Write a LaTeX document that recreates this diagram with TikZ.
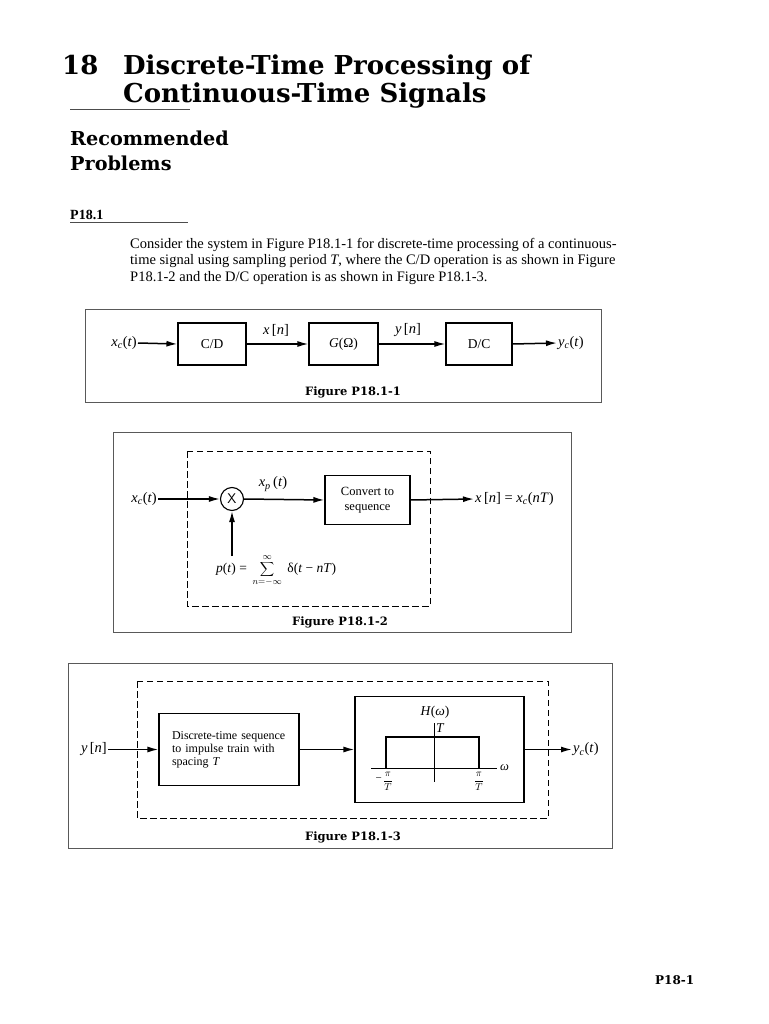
\documentclass[tikz,border=0pt]{standalone}
\usepackage{fontspec}
\setmainfont{Liberation Serif}
\newfontfamily\headfont{DejaVu Serif}
\usetikzlibrary{arrows.meta}
\newcommand{\setfs}[1]{\fontsize{#1}{#1}\selectfont}
\newcommand{\isub}[2]{\textit{#1}\textsubscript{\textit{#2}}}
\begin{document}
\begin{tikzpicture}[x=1pt,y=-1pt,
  blk/.style={draw, line width=1.1pt, inner sep=0pt, align=center, font=\setfs{13.5}},
  sig/.style={line width=1.5pt, -{Latex[length=11pt,width=6pt]}},
  framebox/.style={draw=black!65, line width=1pt},
  dashbox/.style={draw, line width=0.9pt, dash pattern=on 6.5pt off 3.5pt},
  lab/.style={font=\setfs{14.5}, inner sep=1pt},
  figcap/.style={font=\headfont\bfseries\setfs{11.5}},
  para/.style={anchor=base west, font=\setfs{14.5}, inner sep=0pt},
]
\useasboundingbox[fill=white] (0,0) rectangle (768,1024);

% ---------- headings ----------
\node[anchor=base west, inner sep=0pt, font=\headfont\bfseries\setfs{26}] (t18) at (62,75) {18};
\node[anchor=base west, inner sep=0pt, font=\headfont\bfseries\setfs{26}] (t1) at (123,75) {Discrete-Time Processing of};
\node[anchor=base west, inner sep=0pt, font=\headfont\bfseries\setfs{26}] (t2) at (123,103) {Continuous-Time Signals};
\draw[black!70, line width=1pt] (70,110) -- (190,110);
\node[anchor=base west, inner sep=0pt, font=\headfont\bfseries\setfs{19.2}] (rec) at (70,146) {Recommended};
\node[anchor=base west, inner sep=0pt, font=\headfont\bfseries\setfs{19.2}] (prob) at (70,171) {Problems};
\node[anchor=base west, inner sep=0pt, font=\bfseries\setfs{14}] (p181) at (70,220) {P18.1};
\draw[black!70, line width=0.8pt] (70,222.5) -- (188,222.5);
\node[para] (l1) at (130,248) {Consider the system in Figure P18.1-1 for discrete-time processing of a continuous-};
\node[para] (l2) at (130,264.5) {time signal using sampling period \textit{T}, where the C/D operation is as shown in Figure};
\node[para] (l3) at (130,281) {P18.1-2 and the D/C operation is as shown in Figure P18.1-3.};

% ---------- Figure P18.1-1 ----------
\draw[framebox] (85,309) rectangle (601,402);
\node[blk, minimum width=68, minimum height=42] (cd) at (212,344) {C/D};
\node[blk, minimum width=69, minimum height=42] (g) at (343.5,344) {\textit{G}(Ω)};
\node[blk, minimum width=66, minimum height=42] (dc) at (479,344) {D/C};
\node[lab, anchor=east] (xc1) at (138,343) {\isub{x}{c}(\textit{t})};
\node[lab, anchor=west] (yc1) at (557,343) {\isub{y}{c}(\textit{t})};
\node[lab] (xn1) at (276,330) {\textit{x}\,[\textit{n}]};
\node[lab] (yn1) at (408,330) {\textit{y}\,[\textit{n}]};
\draw[sig] (xc1.east) -- (cd.west);
\draw[sig] (cd.east) -- (g.west);
\draw[sig] (g.east) -- (dc.west);
\draw[sig] (dc.east) -- (yc1.west);
\node[figcap] (cap1) at (353,392) {Figure P18.1-1};

% ---------- Figure P18.1-2 ----------
\draw[framebox] (113,432) rectangle (571,632);
\draw[dashbox] (187,451) rectangle (430,606);
\node[circle, draw, line width=1.1pt, minimum size=23pt, inner sep=0pt, font=\sffamily\setfs{14}] (mul) at (232,499) {X};
\node[blk, minimum width=85, minimum height=49, font=\setfs{12.5}, align=center] (conv) at (367.5,500) {Convert to\\[2pt]sequence};
\node[lab, anchor=east] (xc2) at (158,499) {\isub{x}{c}(\textit{t})};
\node[lab] (xp) at (273,484) {\isub{x}{p}\,(\textit{t})};
\node[lab, anchor=west] (xn2) at (474,499) {\textit{x}\,[\textit{n}] = \isub{x}{c}(\textit{nT})};
\node[lab, anchor=west, font=\setfs{13.5}] (pt) at (215,570) {\textit{p}(\textit{t}) = \,$\displaystyle\sum_{n=-\infty}^{\infty}$\, δ(\textit{t} − \textit{nT})};
\coordinate (pin) at (232,556);
\draw[sig] (xc2.east) -- (mul.west);
\draw[sig] (mul.east) -- (conv.west);
\draw[sig] (conv.east) -- (xn2.west);
\draw[sig] (pin) -- (mul.south);
\node[figcap] (cap2) at (340,622) {Figure P18.1-2};

% ---------- Figure P18.1-3 ----------
\draw[framebox] (68,663) rectangle (612,848);
\draw[dashbox] (137,681) rectangle (548,818);
\node[blk, minimum width=140, minimum height=72, font=\setfs{12}, align=left, text width=114] (disc) at (229,749.5) {Discrete-time sequence\\[1pt]to impulse train with\\[1pt]spacing \textit{T}};
\node[blk, minimum width=169, minimum height=106] (hbox) at (439.5,749.5) {};
\node[lab, anchor=east] (yn3) at (108,749.5) {\textit{y}\,[\textit{n}]};
\node[lab, anchor=west] (yc3) at (572,749.5) {\isub{y}{c}(\textit{t})};
\draw[sig] (yn3.east) -- (disc.west);
\draw[sig] (disc.east) -- (hbox.west);
\draw[sig] (hbox.east) -- (yc3.west);
% frequency response
\draw[line width=0.9pt] (434,723) -- (434,782);
\draw[line width=0.9pt] (371,768) -- (497,768);
\draw[line width=1.3pt] (386,768) -- (386,737) -- (479,737) -- (479,768);
\node[lab, font=\setfs{13.5}] (hw) at (435,712) {\textit{H}(\textit{ω})};
\node[lab, anchor=west, font=\setfs{13.5}] (tl) at (435,728) {\textit{T}};
\node[lab, anchor=west, font=\setfs{12.5}] (wl) at (499,768) {\textit{ω}};
\node[lab, anchor=north east, font=\setfs{11}, inner sep=0pt] (mpim) at (382,777) {−};
\node[lab, anchor=north, font=\setfs{10}, inner sep=0pt] (mpi) at (388,772) {$\displaystyle\frac{\pi}{T}$};
\node[lab, anchor=north, font=\setfs{10}, inner sep=0pt] (ppi) at (479,772) {$\displaystyle\frac{\pi}{T}$};
\node[figcap] (cap3) at (353,837) {Figure P18.1-3};

% ---------- page number ----------
\node[anchor=base west, inner sep=0pt, font=\headfont\bfseries\setfs{12}] (pg) at (655,984) {P18-1};
\end{tikzpicture}
\end{document}
